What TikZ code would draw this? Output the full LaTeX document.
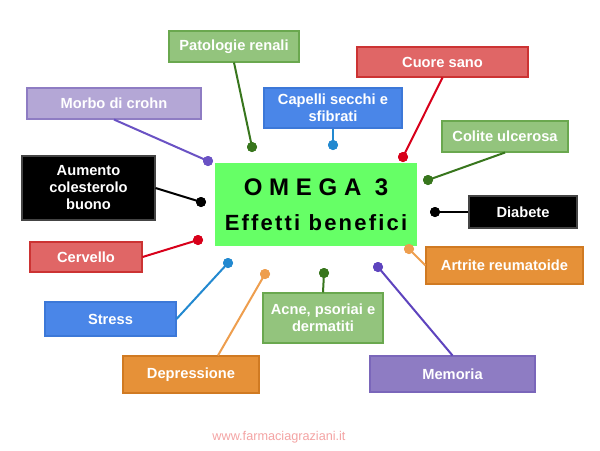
\documentclass[tikz,border=0pt]{standalone}
\usepackage{fontspec}
\setmainfont{Liberation Sans}
\newfontfamily\titleA[LetterSpace=28]{Liberation Sans}
\newfontfamily\titleB[LetterSpace=10]{Liberation Sans}
\definecolor{gfill}{HTML}{93C47D}\definecolor{gdraw}{HTML}{6AA84F}\definecolor{gline}{HTML}{38761D}
\definecolor{pfill}{HTML}{B4A7D6}\definecolor{pdraw}{HTML}{8E7CC3}\definecolor{pline}{HTML}{6A52C4}
\definecolor{bfill}{HTML}{4A86E8}\definecolor{bdraw}{HTML}{3C78D8}\definecolor{bline}{HTML}{2389D0}
\definecolor{rfill}{HTML}{E06666}\definecolor{rdraw}{HTML}{CC3333}\definecolor{rline}{HTML}{D8001A}
\definecolor{ofill}{HTML}{E69138}\definecolor{odraw}{HTML}{D07A22}\definecolor{oline}{HTML}{EE9E4E}
\definecolor{mfill}{HTML}{8E7CC3}\definecolor{mdraw}{HTML}{7A66BA}\definecolor{mline}{HTML}{5E44BE}
\definecolor{kdraw}{HTML}{444444}
\definecolor{mainfill}{HTML}{66FF66}
\definecolor{wmark}{HTML}{F4A4A4}
\tikzset{
  box/.style={rectangle, line width=0.8pt, text=white, align=center,
    font=\fontsize{11}{12.75}\selectfont\bfseries, inner sep=0pt},
  conn/.style={line width=1.5pt},
  dotc/.style={circle, inner sep=0pt, minimum size=7.5pt},
}
\begin{document}
\begin{tikzpicture}[x=0.75pt,y=-0.75pt]
\useasboundingbox[fill=white] (0,0) rectangle (600,450);
% main box
\node[rectangle, fill=mainfill, minimum width=151.5pt, minimum height=62.25pt, inner sep=0pt] (main) at (316,204.5) {};
\node[font=\fontsize{18}{20}\selectfont\titleA\bfseries] (t1) at (316,187) {OMEGA 3};
\node[font=\fontsize{16.5}{18}\selectfont\titleB\bfseries] (t2) at (316,222.5) {Effetti benefici};
% boxes
\node[box, fill=gfill, draw=gdraw, minimum width=97.5pt, minimum height=23.25pt] (pat) at (234,46.5) {Patologie renali};
\node[box, fill=pfill, draw=pdraw, minimum width=130.5pt, minimum height=23.25pt] (mor) at (114,103.5) {Morbo di crohn};
\node[box, fill=black, draw=kdraw, minimum width=99.75pt, minimum height=48pt] (aum) at (88.5,188) {Aumento\\colesterolo\\buono};
\node[box, fill=bfill, draw=bdraw, minimum width=103.5pt, minimum height=30pt] (cap) at (333,108) {Capelli secchi e\\sfibrati};
\node[box, fill=rfill, draw=rdraw, minimum width=128.25pt, minimum height=22.5pt] (cuo) at (442.5,62) {Cuore sano};
\node[box, fill=gfill, draw=gdraw, minimum width=94.5pt, minimum height=23.25pt] (col) at (505,136.5) {Colite ulcerosa};
\node[box, fill=black, draw=kdraw, minimum width=81pt, minimum height=24pt] (dia) at (523,212) {Diabete};
\node[box, fill=rfill, draw=rdraw, minimum width=84pt, minimum height=22.5pt] (cer) at (86,257) {Cervello};
\node[box, fill=bfill, draw=bdraw, minimum width=98.25pt, minimum height=25.5pt] (str) at (110.5,319) {Stress};
\node[box, fill=ofill, draw=odraw, minimum width=102pt, minimum height=27.75pt] (dep) at (191,374.5) {Depressione};
\node[box, fill=gfill, draw=gdraw, minimum width=90pt, minimum height=37.5pt] (acn) at (323,318) {Acne, psoriai e\\dermatiti};
\node[box, fill=ofill, draw=odraw, minimum width=117.75pt, minimum height=27.75pt] (art) at (504.5,265.5) {Artrite reumatoide};
\node[box, fill=mfill, draw=mdraw, minimum width=123.75pt, minimum height=27pt] (mem) at (452.5,374) {Memoria};
% dots
\node[dotc, fill=gline] (dpat) at (252,147) {};
\node[dotc, fill=pline] (dmor) at (208,161) {};
\node[dotc, fill=black] (daum) at (201,202) {};
\node[dotc, fill=bline] (dcap) at (333,145) {};
\node[dotc, fill=rline] (dcuo) at (403,157) {};
\node[dotc, fill=gline] (dcol) at (428,180) {};
\node[dotc, fill=black] (ddia) at (435,212) {};
\node[dotc, fill=rline] (dcer) at (198,240) {};
\node[dotc, fill=bline] (dstr) at (228,263) {};
\node[dotc, fill=oline] (ddep) at (265,274) {};
\node[dotc, fill=gline] (dacn) at (324,273) {};
\node[dotc, fill=oline] (dart) at (409,249) {};
\node[dotc, fill=mline] (dmem) at (378,267) {};
% connectors
\draw[conn, gline] (pat.south) -- (dpat.center);
\draw[conn, pline] (mor.south) -- (dmor.center);
\draw[conn, black] (aum.east) -- (daum.center);
\draw[conn, bline] (cap.south) -- (dcap.center);
\draw[conn, rline] (cuo.south) -- (dcuo.center);
\draw[conn, gline] (col.south) -- (dcol.center);
\draw[conn, black] (dia.west) -- (ddia.center);
\draw[conn, rline] (cer.east) -- (dcer.center);
\draw[conn, bline] (str.east) -- (dstr.center);
\draw[conn, oline] ([xshift=20.25pt]dep.north) -- (ddep.center);
\draw[conn, gline] (acn.north) -- (dacn.center);
\draw[conn, oline] (art.west) -- (dart.center);
\draw[conn, mline] (mem.north) -- (dmem.center);
% redraw dots on top
\foreach \d/\c in {dpat/gline,dmor/pline,daum/black,dcap/bline,dcuo/rline,dcol/gline,ddia/black,dcer/rline,dstr/bline,ddep/oline,dacn/gline,dart/oline,dmem/mline}
  \fill[\c] (\d) circle (3.75pt);
% watermark
\node[text=wmark, font=\fontsize{9.5}{10}\selectfont] (wm) at (279,437) {www.farmaciagraziani.it};
\end{tikzpicture}
\end{document}
